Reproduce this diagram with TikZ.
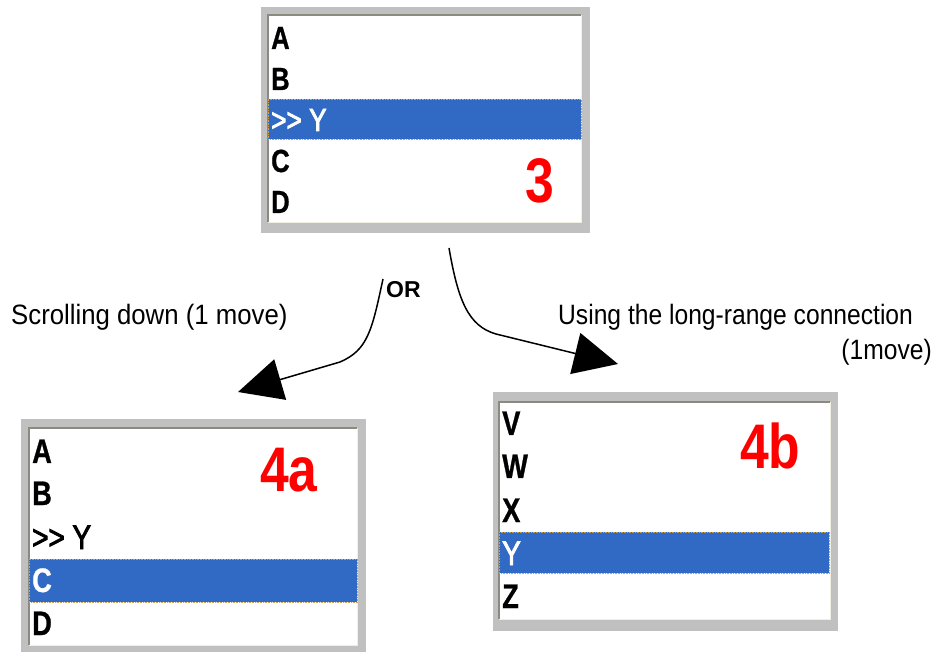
\documentclass[tikz,border=0pt]{standalone}
\usepackage{fontspec}
\setmainfont{Liberation Sans}
\newfontfamily\listbold[FakeStretch=0.8,FakeBold=0.8]{Liberation Sans Bold}
\newfontfamily\listsemi[FakeStretch=0.82,FakeBold=2.5]{Liberation Sans}
\newfontfamily\numfont[FakeStretch=0.82]{Liberation Sans}
\newfontfamily\labfont[FakeStretch=0.88]{Liberation Sans}
\newfontfamily\labfontw[FakeStretch=0.92]{Liberation Sans}
\usetikzlibrary{arrows.meta}
\definecolor{selblue}{HTML}{316AC5}
\definecolor{framegray}{HTML}{C0C0C0}
\definecolor{edgedark}{HTML}{8A8A7E}
\definecolor{edgelight}{HTML}{F1EFE2}
\definecolor{focusorange}{HTML}{C8A050}
\definecolor{numred}{HTML}{FF0000}
\tikzset{
  frame/.style={fill=framegray, draw=none, inner sep=0pt, rectangle, anchor=north west},
  panel/.style={fill=white, draw=none, inner sep=0pt, rectangle, anchor=north west},
  sel/.style={fill=selblue, draw=focusorange, densely dotted, line width=0.6pt, inner sep=0pt, rectangle, anchor=north west},
  darkedge/.style={draw=edgedark, line width=1.5pt},
  lightedge/.style={draw=edgelight, line width=1.5pt},
  rowtop/.style={anchor=base west, inner sep=0pt, font=\listbold\fontsize{32}{32}\selectfont},
  rowbot/.style={anchor=base west, inner sep=0pt, font=\listbold\fontsize{34}{34}\selectfont},
  semitop/.style={anchor=base west, inner sep=0pt, font=\listsemi\fontsize{32}{32}\selectfont},
  semibot/.style={anchor=base west, inner sep=0pt, font=\listsemi\fontsize{34}{34}\selectfont},
  bignum/.style={anchor=base west, inner sep=0pt, text=numred, font=\numfont\bfseries\fontsize{63}{63}\selectfont},
  lab/.style={inner sep=0pt, font=\labfont\fontsize{28}{28}\selectfont},
  labw/.style={inner sep=0pt, font=\labfontw\fontsize{28}{28}\selectfont},
  conn/.style={draw=black, line width=1.5pt, -{Triangle[length=44pt,width=42pt]}}
}
\begin{document}
\begin{tikzpicture}[x=1pt,y=-1pt]
\useasboundingbox (0,0) rectangle (938,652);
\fill[white] (0,0) rectangle (938,652);

% ---------- box 3 ----------
\node[frame, minimum width=329pt, minimum height=226pt] (f3) at (261,7) {};
\node[panel, minimum width=313pt, minimum height=207pt] (w3) at (268,15) {};
\draw[lightedge] (w3.north east) -- (w3.south east) -- (w3.south west);
\draw[darkedge] (w3.south west) -- (w3.north west) -- (w3.north east);
\node[sel, minimum width=313pt, minimum height=40pt] (h3) at (268,99) {};
\node[rowtop] (t3a) at (271,49) {A};
\node[rowtop] (t3b) at (271,90) {B};
\node[semitop, text=white] (t3y) at (271,131) {>> Y};
\node[rowtop] (t3c) at (271,172) {C};
\node[rowtop] (t3d) at (271,213) {D};
\node[bignum] (n3) at (525,203) {3};

% ---------- box 4a ----------
\node[frame, minimum width=345pt, minimum height=233pt] (f4a) at (21,419) {};
\node[panel, minimum width=328pt, minimum height=217pt] (w4a) at (29,428) {};
\draw[lightedge] (w4a.north east) -- (w4a.south east) -- (w4a.south west);
\draw[darkedge] (w4a.south west) -- (w4a.north west) -- (w4a.north east);
\node[sel, minimum width=328pt, minimum height=43pt] (h4a) at (29,559) {};
\node[rowbot] (ta) at (32,463) {A};
\node[rowbot] (tb) at (32,505) {B};
\node[semibot] (ty) at (32,549) {>> Y};
\node[rowbot, text=white] (tc) at (32,592) {C};
\node[rowbot] (td) at (32,635) {D};
\node[bignum] (n4a) at (260,492) {4a};

% ---------- box 4b ----------
\node[frame, minimum width=345pt, minimum height=239pt] (f4b) at (493,392) {};
\node[panel, minimum width=331pt, minimum height=217pt] (w4b) at (499,402) {};
\draw[lightedge] (w4b.north east) -- (w4b.south east) -- (w4b.south west);
\draw[darkedge] (w4b.south west) -- (w4b.north west) -- (w4b.north east);
\node[sel, minimum width=330pt, minimum height=41pt] (h4b) at (499,532) {};
\node[rowbot] (tv) at (502,435) {V};
\node[rowbot] (tw) at (502,478) {W};
\node[rowbot] (tx) at (502,522) {X};
\node[semibot, text=white] (tyb) at (502,565) {Y};
\node[rowbot] (tz) at (502,608) {Z};
\node[bignum] (n4b) at (740,468) {4b};

% ---------- labels ----------
\node[labw, anchor=base west] (l1) at (11,325) {Scrolling down (1 move)};
\node[lab, anchor=base west] (l2) at (558,325) {Using the long-range connection};
\node[lab, anchor=base east] (l3) at (932,360) {(1move)};
\node[inner sep=0pt, anchor=base west, font=\bfseries\fontsize{23}{23}\selectfont] (or) at (386,298) {OR};

% ---------- connectors ----------
\coordinate (s1) at (383,279);
\coordinate (e1) at (238,392);
\coordinate (s2) at (449,248);
\coordinate (e2) at (618,364);
\draw[conn] (s1) .. controls (372,330) and (368,350) .. (340,362) -- (e1);
\draw[conn] (s2) .. controls (458,300) and (468,326) .. (496,334) -- (e2);
\end{tikzpicture}
\end{document}
